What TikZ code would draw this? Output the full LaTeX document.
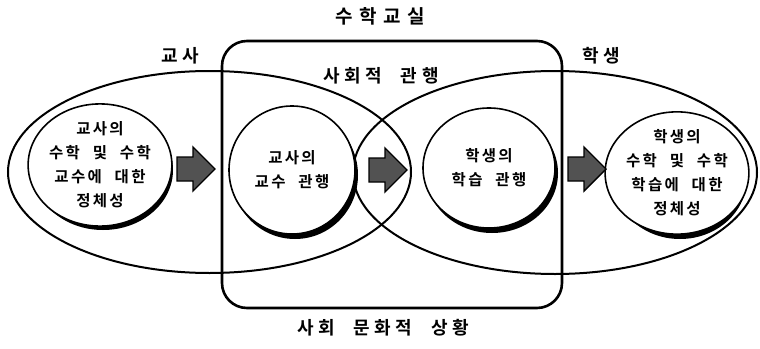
\documentclass[tikz,border=0pt]{standalone}
\usepackage{fontspec}
\setmainfont{Noto Sans CJK KR}[BoldFont={* Bold}]
\newfontfamily\kb{Noto Sans CJK KR}[UprightFont={* Bold}, WordSpace=2.2]
\usetikzlibrary{shapes.geometric}
\newcommand{\mycirc}[6]{%
  \node[ellipse, fill=black, minimum width=#4pt, minimum height=#5pt, inner sep=0pt] (#1s) at (#2+3,#3+5) {};
  \node[ellipse, draw, fill=white, line width=1.6pt, minimum width=#4pt, minimum height=#5pt, inner sep=0pt, align=center, ctext] (#1) at (#2,#3) {#6};
}
\newcommand{\blockarrow}[3]{%
  \path (#2,#3) coordinate (#1);
  \filldraw[arrowfill] (#1) ++(0,-12) -- ++(16,0) -- ++(0,-10) -- ++(22,22) -- ++(-22,22) -- ++(0,-10) -- ++(-16,0) -- cycle;
}
\tikzset{
  bigell/.style={ellipse, draw, line width=2pt, inner sep=0pt},
  ctext/.style={font=\kb\fontsize{15.5}{24}\selectfont\addfontfeature{LetterSpace=15}},
  lab/.style={font=\kb\fontsize{18}{20}\selectfont\addfontfeature{LetterSpace=25}},
  arrowfill/.style={fill=black!68, draw=black, line width=1.4pt, line join=miter},
}
\begin{document}
\begin{tikzpicture}[x=1pt,y=-1pt]
\useasboundingbox (0,0) rectangle (760,348);
% big ellipses
\node[bigell, minimum width=403pt, minimum height=202pt] (teach) at (209.5,172) {};
\node[bigell, minimum width=404pt, minimum height=203pt] (stud) at (555,172.5) {};
% classroom box
\node[draw, line width=2.6pt, rounded corners=25pt, minimum width=340pt, minimum height=267pt, inner sep=0pt] (room) at (392,174.5) {};
% labels
\node[lab, font=\kb\fontsize{19}{20}\selectfont\addfontfeature{LetterSpace=35}] (t1) at (380,16) {수학교실};
\node[lab] (t2) at (381,76) {사회적 관행};
\node[lab] (t3) at (180,56) {교사};
\node[lab] (t4) at (601,56) {학생};
\node[lab] (t5) at (383,328) {사회 문화적 상황};
% circles
\mycirc{c1}{100}{165}{140}{120}{교사의\\수학 및 수학\\교수에 대한\\정체성}
\mycirc{c2}{292}{170}{126}{128}{교사의\\교수 관행}
\mycirc{c3}{489}{168}{132}{120}{학생의\\학습 관행}
\mycirc{c4}{677}{173}{134}{122}{학생의\\수학 및 수학\\학습에 대한\\정체성}
% arrows
\blockarrow{a1}{177}{169}
\blockarrow{a2}{369}{170}
\blockarrow{a3}{568}{169}
\end{tikzpicture}
\end{document}
